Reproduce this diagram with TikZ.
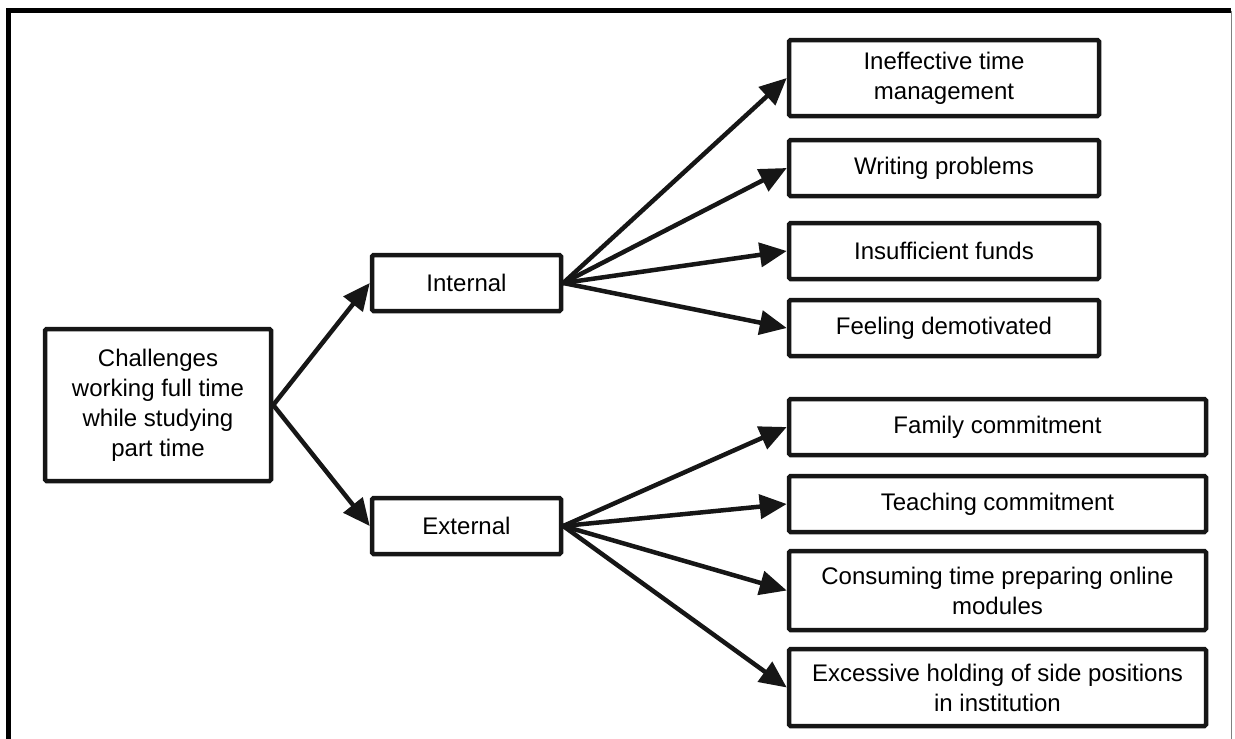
\documentclass[tikz,border=0pt]{standalone}
\usepackage{fontspec}
\setmainfont{Liberation Sans}
\usetikzlibrary{arrows.meta}
\definecolor{ink}{RGB}{22,22,22}
\tikzset{
  box/.style={draw=ink, line width=4.5pt, rounded corners=1.5pt, fill=white, align=center,
    inner sep=0pt, font=\fontsize{24}{30}\selectfont, text=black},
  conn/.style={draw=ink, line width=4.5pt, -{Triangle[length=27pt,width=24pt]}, shorten <=-1pt},
  frameline/.style={draw=black, line width=4.6pt}
}
\begin{document}
\begin{tikzpicture}[x=1pt,y=-1pt]
\useasboundingbox (0,0) rectangle (1235,739);
\draw[frameline] (8.3,739) -- (8.3,10.5) -- (1231,10.5);
\draw[draw=gray, line width=1pt] (1231,10.5) -- (1231,739);

\node[box, minimum width=226pt, minimum height=152pt] (root) at (158,405)
  {Challenges\\working full time\\while studying\\part time};
\node[box, minimum width=189pt, minimum height=56pt] (int) at (466.5,283) {Internal};
\node[box, minimum width=189pt, minimum height=56pt] (ext) at (466.5,526) {External};

\node[box, minimum width=310pt, minimum height=76pt] (ineff) at (944,78) {Ineffective time\\management};
\node[box, minimum width=310pt, minimum height=56pt] (writ) at (944,168) {Writing problems};
\node[box, minimum width=310pt, minimum height=56pt] (insuf) at (944,251) {Insufficient funds};
\node[box, minimum width=310pt, minimum height=56pt] (feel) at (944,328) {Feeling demotivated};

\node[box, minimum width=417pt, minimum height=56pt] (fam) at (997.5,427) {Family commitment};
\node[box, minimum width=417pt, minimum height=56pt] (teach) at (997.5,504) {Teaching commitment};
\node[box, minimum width=417pt, minimum height=79pt] (cons) at (997.5,590.5) {Consuming time preparing online\\modules};
\node[box, minimum width=417pt, minimum height=77pt] (exc) at (997.5,687.5) {Excessive holding of side positions\\in institution};

\draw[conn] (root.east) -- (int.west);
\draw[conn] (root.east) -- (ext.west);
\foreach \t in {ineff,writ,insuf,feel}
  \draw[conn] (int.east) -- (\t.west);
\foreach \t in {fam,teach,cons,exc}
  \draw[conn] (ext.east) -- (\t.west);
\end{tikzpicture}
\end{document}
